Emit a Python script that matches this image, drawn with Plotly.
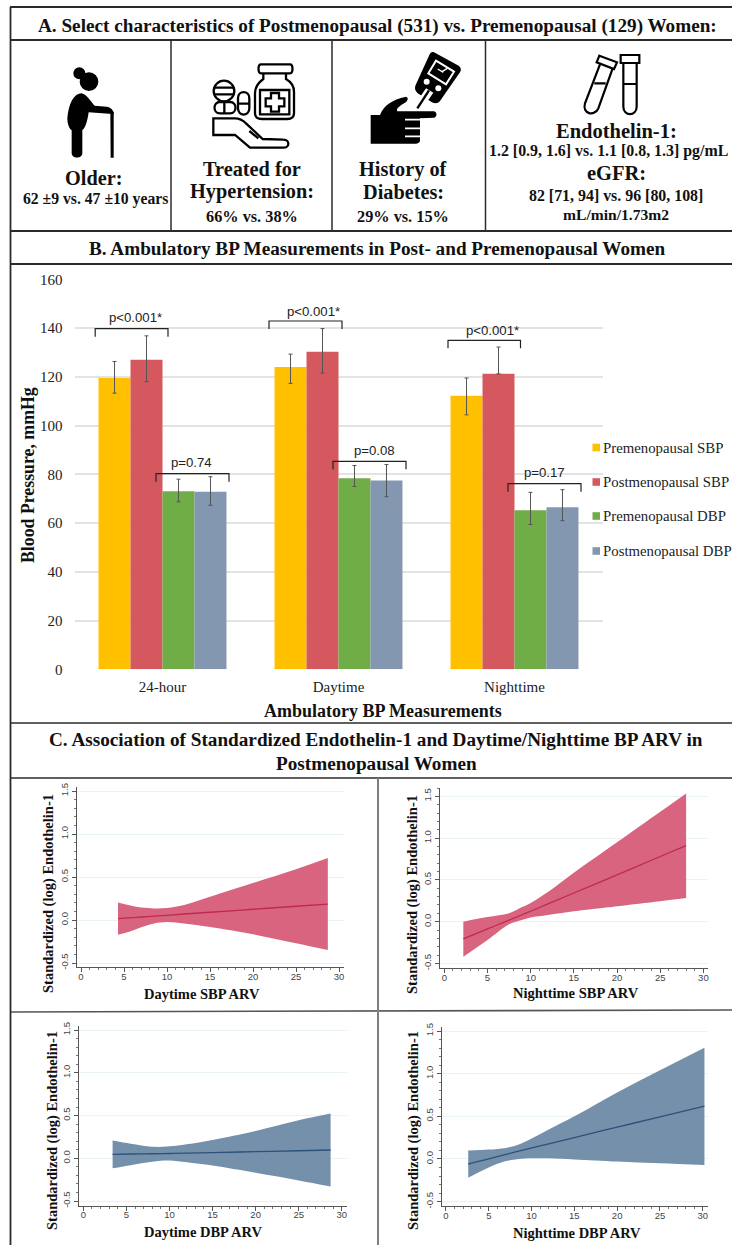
import re
import plotly.graph_objects as go

W, H = 732, 1245

# ---------- panel B data ----------
categories = ["24-hour", "Daytime", "Nighttime"]
series_names = ["Premenopausal SBP", "Postmenopausal SBP", "Premenopausal DBP", "Postmenopausal DBP"]
pre_sbp = [119.5, 124.0, 112.2]
pre_sbp_low = [113.3, 117.3, 104.4]
pre_sbp_high = [126.3, 129.3, 119.5]
post_sbp = [127.0, 130.3, 121.2]
post_sbp_low = [118.0, 121.5, 121.2]
post_sbp_high = [136.8, 139.8, 132.2]
pre_dbp = [73.0, 78.4, 65.2]
pre_dbp_low = [68.7, 75.0, 59.4]
pre_dbp_high = [78.0, 83.6, 72.6]
post_dbp = [72.8, 77.5, 66.5]
post_dbp_low = [67.3, 70.8, 61.0]
post_dbp_high = [79.0, 84.0, 73.7]
bar_y_ticks = [0, 20, 40, 60, 80, 100, 120, 140, 160]
p_labels = ["p<0.001*", "p=0.74", "p<0.001*", "p=0.08", "p<0.001*", "p=0.17"]

# ---------- panel C data ----------
day_sbp_x = [4.3, 5.5, 7, 8.5, 10, 12, 15, 20, 25, 28.7]
day_sbp_up = [0.205, 0.175, 0.145, 0.135, 0.14, 0.175, 0.27, 0.43, 0.59, 0.72]
day_sbp_lo = [-0.17, -0.14, -0.085, -0.04, -0.023, -0.04, -0.08, -0.165, -0.27, -0.35]
day_sbp_line = [0.015, 0.025, 0.035, 0.045, 0.055, 0.07, 0.09, 0.125, 0.16, 0.185]

night_sbp_x = [2.2, 5, 7.5, 9, 10, 12, 15, 20, 25, 28]
night_sbp_up = [0.0, 0.055, 0.1, 0.175, 0.225, 0.355, 0.585, 0.95, 1.315, 1.535]
night_sbp_lo = [-0.42, -0.22, -0.03, 0.02, 0.05, 0.08, 0.125, 0.185, 0.245, 0.283]
night_sbp_line = [-0.205, -0.087, 0.019, 0.083, 0.125, 0.212, 0.343, 0.56, 0.78, 0.91]

day_dbp_x = [3.4, 5.5, 8, 10, 12, 15, 20, 25, 28.7]
day_dbp_up = [0.207, 0.17, 0.135, 0.14, 0.165, 0.215, 0.32, 0.445, 0.523]
day_dbp_lo = [-0.117, -0.08, -0.04, -0.027, -0.047, -0.085, -0.17, -0.26, -0.33]
day_dbp_line = [0.047, 0.05, 0.053, 0.056, 0.06, 0.067, 0.077, 0.088, 0.097]

night_dbp_x = [2.6, 5, 7, 8.5, 10, 12, 15, 20, 25, 30.2]
night_dbp_up = [0.098, 0.11, 0.13, 0.17, 0.24, 0.345, 0.5, 0.78, 1.04, 1.305]
night_dbp_lo = [-0.22, -0.1, -0.025, 0.0, 0.008, 0.008, -0.005, -0.03, -0.05, -0.07]
night_dbp_line = [-0.06, 0.0, 0.053, 0.092, 0.13, 0.178, 0.251, 0.373, 0.494, 0.62]

c_x_ticks = [0, 5, 10, 15, 20, 25, 30]
c_y_ticks = [-0.5, 0.0, 0.5, 1.0, 1.5]
c_y_labels = ["-0.5", "0.0", "0.5", "1.0", "1.5"]

# ---------- styles ----------
SERIF = "Liberation Serif"
SANS = "Liberation Sans"
bar_colors = ["#FFC000", "#D5585E", "#70AD47", "#8497B0"]
PINK, PINK_LINE = "#D9647F", "#BE2A50"
BLUE, BLUE_LINE = "#7590AB", "#2C5279"
INK = "#2B2B2B"


def px(x):
    return x / W


def py(y):
    return 1 - y / H


annotations, shapes = [], []


def label(x, y, text, size, bold=False, family=SERIF, color="#111111", anchor="center", angle=0):
    annotations.append(dict(
        x=px(x), y=py(y), xref="paper", yref="paper", text=f"<b>{text}</b>" if bold else text,
        showarrow=False, xanchor=anchor, yanchor="middle", textangle=angle,
        font=dict(family=family, size=size, color=color), borderpad=0, borderwidth=0))


def rule(x0, y0, x1, y1, color=INK, width=1.6):
    shapes.append(dict(type="line", xref="paper", yref="paper", x0=px(x0), y0=py(y0), x1=px(x1), y1=py(y1),
                       line=dict(color=color, width=width), layer="above"))


def path_from(d, ox, oy, scale=1 / 3):
    """Convert an icon path written in zoom pixels to paper coordinates."""
    out, is_x = [], True
    for tok in re.findall(r"[MLCQZ]|-?\d+\.?\d*", d):
        if tok.isalpha():
            out.append(tok)
        else:
            v = float(tok)
            out.append(f"{px(ox + v * scale):.5f}," if is_x else f"{py(oy + v * scale):.5f}")
            is_x = not is_x
    return " ".join(out).replace(", ", ",")


def icon(d, ox, oy, fill=None, stroke=None, width=0):
    shapes.append(dict(type="path", xref="paper", yref="paper", path=path_from(d, ox, oy),
                       fillcolor=fill or "rgba(0,0,0,0)",
                       line=dict(color=stroke or "rgba(0,0,0,0)", width=width), layer="above"))


def dot(cx, cy, r, ox, oy, fill=None, stroke=None, width=0):
    shapes.append(dict(type="circle", xref="paper", yref="paper",
                       x0=px(ox + (cx - r) / 3), x1=px(ox + (cx + r) / 3),
                       y0=py(oy + (cy + r) / 3), y1=py(oy + (cy - r) / 3),
                       fillcolor=fill or "rgba(0,0,0,0)",
                       line=dict(color=stroke or "rgba(0,0,0,0)", width=width), layer="above"))


fig = go.Figure()

# ---------- bars ----------
bar_sets = [(pre_sbp, pre_sbp_low, pre_sbp_high), (post_sbp, post_sbp_low, post_sbp_high),
            (pre_dbp, pre_dbp_low, pre_dbp_high), (post_dbp, post_dbp_low, post_dbp_high)]
for name, color, (vals, lows, highs) in zip(series_names, bar_colors, bar_sets):
    fig.add_trace(go.Bar(
        x=categories, y=vals, name=name, marker=dict(color=color, line=dict(width=0)),
        error_y=dict(type="data", symmetric=False,
                     array=[h - v for h, v in zip(highs, vals)],
                     arrayminus=[v - l for l, v in zip(lows, vals)],
                     color="#555555", thickness=1, width=2),
        showlegend=False, xaxis="x", yaxis="y"))

# ---------- band panels ----------
bands = [
    ("x2", "y2", day_sbp_x, day_sbp_up, day_sbp_lo, day_sbp_line, PINK, PINK_LINE, "Daytime SBP ARV"),
    ("x3", "y3", night_sbp_x, night_sbp_up, night_sbp_lo, night_sbp_line, PINK, PINK_LINE, "Nighttime SBP ARV"),
    ("x4", "y4", day_dbp_x, day_dbp_up, day_dbp_lo, day_dbp_line, BLUE, BLUE_LINE, "Daytime DBP ARV"),
    ("x5", "y5", night_dbp_x, night_dbp_up, night_dbp_lo, night_dbp_line, BLUE, BLUE_LINE, "Nighttime DBP ARV"),
]
for xa, ya, xs, up, lo, line, fill, stroke, name in bands:
    fig.add_trace(go.Scatter(x=xs, y=lo, mode="lines", line=dict(width=0, color=fill, shape="spline"),
                             name=name + " lower", showlegend=False, xaxis=xa, yaxis=ya, hoverinfo="skip"))
    fig.add_trace(go.Scatter(x=xs, y=up, fill="tonexty", fillcolor=fill, mode="lines",
                             line=dict(width=0, color=fill, shape="spline"), name=name + " upper",
                             showlegend=False, xaxis=xa, yaxis=ya, hoverinfo="skip"))
    fig.add_trace(go.Scatter(x=xs, y=line, mode="lines", line=dict(width=1.3, color=stroke, shape="spline"), name=name,
                             showlegend=False, xaxis=xa, yaxis=ya))

# ---------- frame ----------
for y0, w in [(7, 1.8), (40, 1.8), (231, 1.8), (264, 2.2), (723, 1.6), (778, 1.6)]:
    rule(10, y0, W, y0, width=w)
rule(10, 1012, W, 1010, color="#555555", width=1.6)
rule(10.5, 7, 10.5, H, width=1.8)
for x0 in (171, 332, 485.5):
    rule(x0, 40, x0, 231, width=1.5)
rule(378, 778, 378, H, color="#7F7F7F", width=2)

# ---------- headings & cell text ----------
label(377.5, 26, "A. Select characteristics of Postmenopausal (531) vs. Premenopausal (129) Women:", 19.2, True)
label(377, 249, "B. Ambulatory BP Measurements in Post- and Premenopausal Women", 19.2, True)
label(376, 740, "C. Association of Standardized Endothelin-1 and Daytime/Nighttime BP ARV in", 19.2, True)
label(376, 763, "Postmenopausal Women", 19.2, True)

label(93.5, 178, "Older:", 20.3, True)
label(95, 199, "62 ±9 vs. 47 ±10 years", 15.7, True)
label(252, 169, "Treated for", 20.3, True)
label(252, 192, "Hypertension:", 20.3, True)
label(252, 216, "66% vs. 38%", 16.3, True)
label(403, 169, "History of", 20.3, True)
label(403, 192, "Diabetes:", 20.3, True)
label(403, 216, "29% vs. 15%", 16.3, True)
label(616, 130.5, "Endothelin-1:", 20.5, True)
label(489, 150.5, "1.2 [0.9, 1.6] vs. 1.1 [0.8, 1.3] pg/mL", 15.9, True, anchor="left")
label(616, 173, "eGFR:", 20.5, True)
label(616, 195.5, "82 [71, 94] vs. 96 [80, 108]", 15.9, True)
label(616, 214, "mL/min/1.73m2", 15.6, True)

# ---------- panel B brackets, legend, titles ----------
brackets = [(95.2, 168, 328.7, 135, 317), (156, 229, 473.7, 191, 462),
            (269, 342, 321, 313, 311.7), (333, 406, 461.3, 374, 450),
            (448, 520.5, 340.3, 492, 330.7), (508, 581, 483.7, 544, 472.3)]
for txt, (x0, x1, top, tx, ty) in zip(p_labels, brackets):
    icon_path = f"M{px(x0):.5f},{py(top + 8):.5f} L{px(x0):.5f},{py(top):.5f} L{px(x1):.5f},{py(top):.5f} L{px(x1):.5f},{py(top + 8):.5f}"
    shapes.append(dict(type="path", xref="paper", yref="paper", path=icon_path,
                       line=dict(color="#222222", width=1.2), layer="above"))
    label(tx, ty, txt, 13.2, family=SANS, color="#222222")

for name, color, yy in zip(series_names, bar_colors, [447.5, 482, 516, 551]):
    shapes.append(dict(type="rect", xref="paper", yref="paper", x0=px(592.5), x1=px(600), y0=py(yy + 3.8), y1=py(yy - 3.8),
                       fillcolor=color, line=dict(width=0), layer="above"))
    label(603, yy, name, 14.8, anchor="left", color="#222222")

label(28, 475, "Blood Pressure, mmHg", 17.8, True, angle=-90)
label(382.5, 710.5, "Ambulatory BP Measurements", 18, True)

# ---------- panel C titles ----------
YT = "Standardized (log) Endothelin-1"
for x0, y0, tx, ty, band in [
    (48, 894, 202, 994, bands[0]), (413, 895, 576, 993, bands[1]),
    (52, 1131, 203, 1232, bands[2]), (413, 1131, 577, 1233, bands[3])]:
    label(x0, y0, YT, 14.5, True, angle=-90)
    label(tx, ty, band[-1], 14.5, True)

# ---------- icons ----------
# older woman
OX, OY = 50, 55
dot(88, 55, 18, OX, OY, fill="black")
dot(117, 80, 28, OX, OY, fill="black")
icon("M95,115 C72,115 56,145 52,190 C52,210 60,225 65,225 L65,295 C65,312 97,312 97,295 L97,225 "
     "C105,222 112,200 116,172 L178,176 L192,176 C190,165 182,157 170,155 L134,152 C122,140 110,118 95,115 Z",
     OX, OY, fill="black")
icon("M181,170 L191,170 L191,308 L182,308 Z", OX, OY, fill="black")

# medicine
OX, OY = 200, 55
S = 2.3
icon("M183,28 L270,28 C280,28 280,55 270,55 L183,55 C173,55 173,28 183,28 Z", OX, OY, stroke="black", width=S)
icon("M190,55 L190,72 C172,85 165,100 165,115 L165,175 C165,188 175,192 185,192 L262,192 "
     "C275,192 282,185 282,175 L282,110 C282,95 272,80 258,72 L258,55", OX, OY, stroke="black", width=S)
icon("M180,105 L268,105 L268,178 L180,178 Z", OX, OY, stroke="black", width=S)
icon("M213,114 L237,114 L237,130 L253,130 L253,154 L237,154 L237,170 L213,170 L213,154 L197,154 L197,130 L213,130 Z",
     OX, OY, stroke="black", width=S)
dot(72, 108, 31, OX, OY, stroke="black", width=S)
icon("M42,98 L103,98 M42,118 L103,118", OX, OY, stroke="black", width=S)
icon("M60,141 L90,141 C112,141 112,175 90,175 L60,175 C38,175 38,141 60,141 Z M73,141 L73,175", OX, OY, stroke="black", width=S)
icon("M114,130 C114,105 148,105 148,130 L148,160 C148,185 114,185 114,160 Z M114,146 L148,146", OX, OY, stroke="black", width=S)
icon("M40,190 L40,240 L105,240 L150,278 L250,278 C270,278 270,254 250,254 L188,252 L138,205 C128,195 118,190 105,190 Z "
     "M148,228 L175,250", OX, OY, stroke="black", width=S)

# glucose meter and hand
OX, OY = 360, 45
icon("M222,22 L296,62 C304,68 304,76 300,82 L240,168 C234,176 224,176 216,172 L175,146 C166,140 162,130 168,118 L208,30 C212,22 216,20 222,22 Z",
     OX, OY, fill="black")
icon("M228,47 L282,80 L258,118 L205,85 Z", OX, OY, stroke="white", width=2)
icon("M233,72 L250,82 M246,80 L262,70", OX, OY, stroke="white", width=1.3)
dot(200, 110, 9, OX, OY, fill="white")
dot(235, 130, 9, OX, OY, fill="white")
icon("M198,130 L220,143 L182,198 L160,186 Z", OX, OY, fill="white")
icon("M172,190 L207,136", OX, OY, stroke="black", width=2.4)
icon("M32,210 L60,210 C72,180 95,165 138,155 C146,157 146,168 130,176 C115,185 108,192 112,199 L222,199 "
     "C232,201 232,217 222,218 L180,220 L180,288 C178,294 172,296 168,296 L100,296 L32,296 Z", OX, OY, fill="black")
icon("M135,224 L186,224 M135,250 L186,250 M135,274 L186,274", OX, OY, stroke="white", width=1.6)

# tubes
OX, OY = 570, 45
S = 2.2
icon("M88,32 L141,52 L132,72 L80,52 Z", OX, OY, stroke="black", width=S)
icon("M90,58 L45,175 C36,208 74,215 85,190 L128,70 M73,115 L107,115", OX, OY, stroke="black", width=S)
icon("M152,30 L208,30 L208,54 L152,54 Z", OX, OY, stroke="black", width=S)
icon("M160,54 L160,185 C160,215 200,215 200,185 L200,54 M160,117 L200,117", OX, OY, stroke="black", width=S)

# ---------- axes ----------
layout_axes = dict(
    xaxis=dict(domain=[px(74.5), px(602.5)], anchor="y", tickfont=dict(family=SERIF, size=15, color="#222222"),
               showgrid=False, zeroline=False, showline=False, ticks="", ticklabelstandoff=7, fixedrange=True),
    yaxis=dict(domain=[py(669.3), py(279.3)], anchor="x", range=[0, 160], tickvals=bar_y_ticks,
               tickfont=dict(family=SERIF, size=15, color="#222222"), gridcolor="#E3E3E3", gridwidth=1.6,
               zeroline=False, showline=False, ticks="", ticklabelstandoff=11, fixedrange=True),
    bargap=0.273, bargroupgap=0, barmode="group",
)


def small_axes(n, x0, x1, y0, y1, xr, yr):
    common = dict(showline=True, linecolor="#555555", linewidth=1, ticks="outside", ticklen=4, tickwidth=1,
                  tickcolor="#555555", zeroline=False, fixedrange=True,
                  tickfont=dict(family=SANS, size=9.5, color="#444444"))
    layout_axes[f"xaxis{n}"] = dict(domain=[px(x0), px(x1)], anchor=f"y{n}", range=xr, tickvals=c_x_ticks,
                                    showgrid=False, ticklabelstandoff=-4,
                                    minor=dict(tick0=0, dtick=1, ticks="outside", ticklen=2, tickcolor="#777777"),
                                    **common)
    layout_axes[f"yaxis{n}"] = dict(domain=[py(y1), py(y0)], anchor=f"x{n}", range=yr, tickvals=c_y_ticks,
                                    ticktext=c_y_labels, tickangle=-90, showgrid=True, gridcolor="#EAF3F4", gridwidth=1,
                                    minor=dict(tick0=0, dtick=0.1, ticks="outside", ticklen=2, tickcolor="#777777"),
                                    **common)


small_axes(2, 76.7, 344, 787, 967.3, [-0.5, 30.58], [-0.55, 1.547])
small_axes(3, 440, 707.7, 788, 968.3, [-0.5, 30.5], [-0.558, 1.6])
small_axes(4, 78.7, 346.7, 1025.7, 1206, [-0.534, 30.57], [-0.558, 1.551])
small_axes(5, 441.7, 708.3, 1026.7, 1206.3, [-0.5, 30.65], [-0.555, 1.551])

fig.update_layout(width=W, height=H, margin=dict(l=0, r=0, t=0, b=0, autoexpand=False),
                  paper_bgcolor="white", plot_bgcolor="white",
                  showlegend=False, annotations=annotations, shapes=shapes, **layout_axes)

fig.write_html("out.html", config={"displayModeBar": False},
               post_script="document.body.style.margin='0';document.body.style.overflow='hidden';")
